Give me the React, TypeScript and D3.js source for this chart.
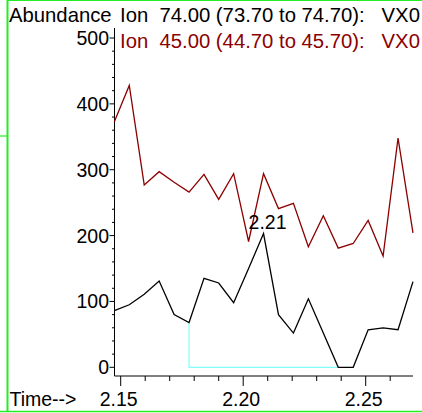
import React from 'react';
import * as d3 from 'd3';

// scan times (min) and abundances
const times = [
  2.1474, 2.1535, 2.1596, 2.1657, 2.1718, 2.1779, 2.184, 2.19, 2.1961, 2.2022, 2.2083,
  2.2144, 2.2205, 2.2266, 2.2327, 2.2388, 2.2449, 2.251, 2.2571, 2.2632, 2.2693,
];
const ion74 = [86, 95, 111, 131, 80, 68, 135, 128, 98, 150, 203, 80, 52, 104, 52, 0, 0, 57, 60, 57, 130];
const ion45 = [373, 428, 277, 297, 281, 266, 293, 255, 294, 191, 294, 241, 249, 183, 230, 181, 188, 223, 169, 348, 204];

const xMajorTicks = [2.15, 2.2, 2.25];
const xMinorTicks = [2.16, 2.17, 2.18, 2.19, 2.21, 2.22, 2.23, 2.24, 2.26];
const yMajorTicks = [0, 100, 200, 300, 400, 500];
const yMinorTicks = [20, 40, 60, 80, 120, 140, 160, 180, 220, 240, 260, 280, 320, 340, 360, 380, 420, 440, 460, 480];

const legend74 = 'Ion  74.00 (73.70 to 74.70):   VX0';
const legend45 = 'Ion  45.00 (44.70 to 45.70):   VX0';
const peakLabel = '2.21';
// integration baseline: from scan 5 to scan 15
const baseStart = 5;
const baseEnd = 15;

const W = 422;
const H = 413;
const FONT = '"Liberation Sans", Arial, sans-serif';

export default function App() {
  const x = d3.scaleLinear().domain([2.15, 2.25]).range([120.7, 365.7]);
  const y = d3.scaleLinear().domain([0, 500]).range([367.3, 38]);

  const axisLeft = 114.5;
  const axisBottom = 376;
  const axisTop = 28;
  const axisRight = x(times[times.length - 1]);

  const line = d3
    .line<number>()
    .x((_, i) => x(times[i]))
    .y(d => y(d));

  const peakIdx = ion74.indexOf(d3.max(ion74) as number);

  const basePath = `M${x(times[baseStart])},${y(ion74[baseStart])}V${y(0)}H${x(times[baseEnd])}`;

  return (
    <svg
      width={W}
      height={H}
      style={{ position: 'fixed', left: 0, top: 0, background: '#fff' }}
      fontFamily={FONT}
    >
      {/* frame */}
      <g stroke="#22ee22" fill="none">
        <line x1={7.5} x2={7.5} y1={0} y2={412} strokeWidth={2} />
        <line x1={7} x2={W} y1={0.5} y2={0.5} strokeWidth={1.2} />
        <line x1={0} x2={W} y1={411.5} y2={411.5} strokeWidth={1.5} />
        <line x1={0} x2={7} y1={136} y2={136} strokeWidth={1.2} />
      </g>

      <text x={9} y={21.5} fontSize={20.3} fill="#000">Abundance</text>
      <text x={120} y={21.5} fontSize={20.3} fill="#000" style={{ whiteSpace: 'pre' }}>{legend74}</text>
      <text x={120} y={48} fontSize={20.3} fill="#8c0000" style={{ whiteSpace: 'pre' }}>{legend45}</text>

      {/* axes */}
      <g stroke="#000" strokeWidth={1}>
        <line x1={axisLeft} x2={axisLeft} y1={axisTop} y2={axisBottom} />
        <line x1={axisLeft} x2={axisRight} y1={axisBottom} y2={axisBottom} />
        {yMajorTicks.map(t => (
          <line key={'ym' + t} x1={axisLeft - 5} x2={axisLeft} y1={y(t)} y2={y(t)} />
        ))}
        {yMinorTicks.map(t => (
          <line key={'yn' + t} x1={axisLeft - 2.5} x2={axisLeft} y1={y(t)} y2={y(t)} />
        ))}
        {xMajorTicks.map(t => (
          <line key={'xm' + t} x1={x(t)} x2={x(t)} y1={axisBottom} y2={axisBottom + 10} />
        ))}
        {xMinorTicks.map(t => (
          <line key={'xn' + t} x1={x(t)} x2={x(t)} y1={axisBottom} y2={axisBottom + 5} />
        ))}
      </g>
      <g fontSize={19.5} fill="#000">
        {yMajorTicks.map(t => (
          <text key={t} x={109} y={y(t) + 7} textAnchor="end">{t}</text>
        ))}
        {xMajorTicks.map(t => (
          <text key={t} x={x(t) - 2} y={406} textAnchor="middle">{t.toFixed(2)}</text>
        ))}
        <text x={9.5} y={406}>Time--&gt;</text>
      </g>

      <path d={basePath} fill="none" stroke="#80ffff" strokeWidth={1.2} />
      <path d={line(ion45) ?? ''} fill="none" stroke="#8c0000" strokeWidth={1.3} />
      <path d={line(ion74) ?? ''} fill="none" stroke="#000" strokeWidth={1.3} />

      <text x={x(times[peakIdx]) + 4} y={y(ion74[peakIdx]) - 5} fontSize={19.5} textAnchor="middle" fill="#000">
        {peakLabel}
      </text>
    </svg>
  );
}
